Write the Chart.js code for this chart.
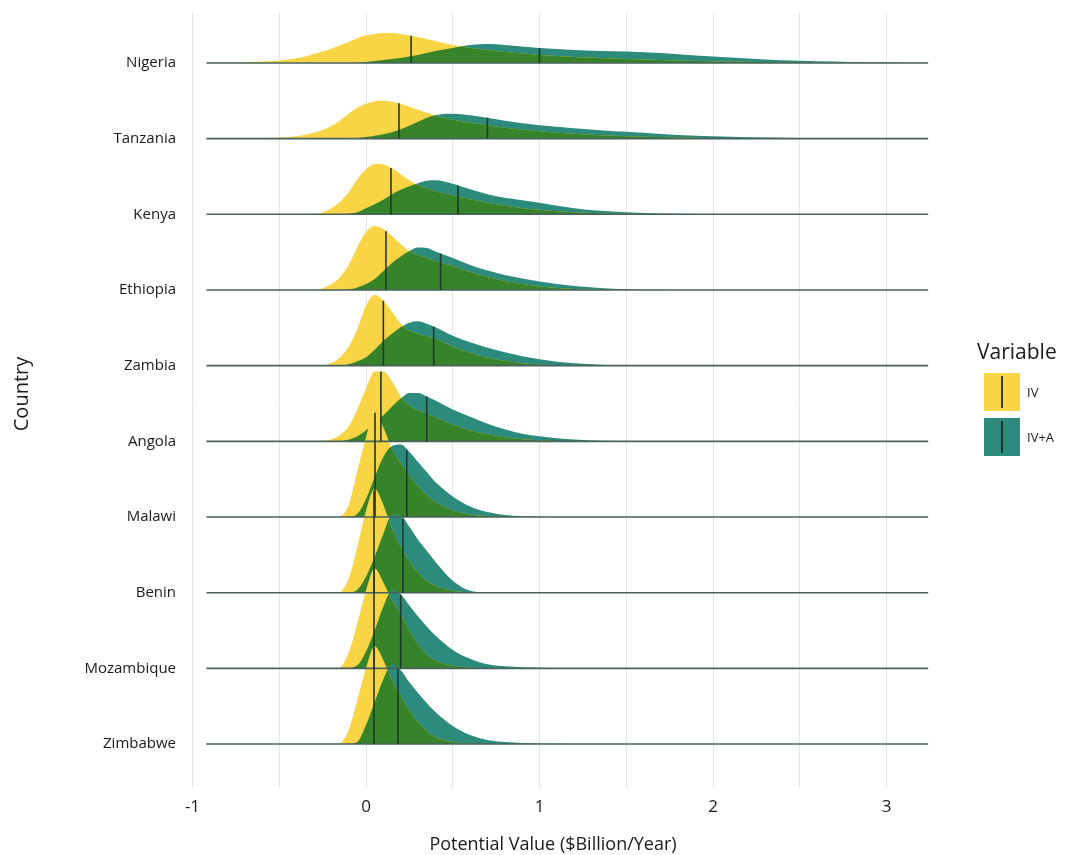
<!DOCTYPE html>
<html><head><meta charset="utf-8">
<script src="https://cdn.jsdelivr.net/npm/chart.js@4.4.1/dist/chart.umd.min.js"></script>
<style>html,body{margin:0;padding:0;background:#fff}#wrap{width:1067px;height:855px;position:relative}</style>
</head><body><div id="wrap"><canvas id="c"></canvas></div>
<script>
// ---------- data ----------
const countries = ['Nigeria','Tanzania','Kenya','Ethiopia','Zambia','Angola','Malawi','Benin','Mozambique','Zimbabwe'];
const seriesNames = ['IV','IV+A'];
// shared x positions (Potential Value, $Billion/Year) for all density curves
const xGrid = [-0.92,-0.8,-0.6,-0.45,-0.35,-0.28,-0.22,-0.16,-0.1,-0.05,
  0,0.05,0.1,0.15,0.2,0.25,0.3,0.35,0.4,
  0.5,0.6,0.7,0.8,0.9,1.0,1.1,1.2,
  1.35,1.5,
  1.7,1.9,2.1,2.3,2.5,2.7,2.9,3.1,
  3.24];
// relative density heights
const iv_Nigeria = [0.2,0.5,1.5,3.5,6.5,10,13,17,21,25, 27.5,29,30,30,29,27.5,26,24,22, 18,15,13,11,9.5,8,7,6, 5,4, 3,2,1.5,1,0.6,0.3,0.2,0.1, 0];
const iva_Nigeria = [0,0,0,0,0,0,0,0,0,0.3, 1,2,3,4,5,6.5,8,10,12, 15,18,19,18,16.5,15,14,13, 12,11.5, 10,7.5,5.5,3.5,2.3,1.4,0.7,0.3, 0.1];
const iv_Tanzania = [0,0.1,0.4,1.5,4,7,11,17,25,31, 35,37.5,38,37,35,32,29,26,23, 19,16,13.5,11,9,7.5,6,5, 3.5,2.5, 1.5,0.8,0.4,0.2,0.1,0,0,0, 0];
const iva_Tanzania = [0,0,0,0,0,0,0,0,0,0.5, 1.5,3,4.5,6.5,9.5,13,17,21,23.5, 25,23.5,21,18,15.5,13.5,12,10.5, 8.5,6.8, 4.7,2.8,1.8,1.1,0.6,0.3,0.1,0, 0];
const iv_Kenya = [0,0,0,0,0,0.5,4,11,22,35, 45,50.5,50,46,40,34,29,26,23, 19,15,11.5,8.5,6,4.5,3,2, 1,0.5, 0.2,0,0,0,0,0,0,0, 0];
const iva_Kenya = [0,0,0,0,0,0,0,0,0.3,2, 6,10,14.5,20,24.5,28,31,33.5,34, 30.5,25,20,16.5,14,11.5,8.5,6, 3.5,2, 0.8,0.3,0.1,0,0,0,0,0, 0];
const iv_Ethiopia = [0,0,0,0,0,0.5,4,11,25,43, 58,64,61,54,46,39,35,32,29, 24,18,13,9,6,3.5,2,1, 0.4,0.1, 0,0,0,0,0,0,0,0, 0];
const iva_Ethiopia = [0,0,0,0,0,0,0,0,0.5,2.5, 6,11,19,27,33.5,39,42.5,42,38.5, 32,25,19.5,15,11.5,8.5,6,4, 2,0.8, 0.2,0,0,0,0,0,0,0, 0];
const iv_Zambia = [0,0,0,0,0,0,1.5,7,19,37, 60,71,65,54,42,35,32,29.5,27, 19,13,8,5,2.5,1.2,0.5,0.2, 0,0, 0,0,0,0,0,0,0,0, 0];
const iva_Zambia = [0,0,0,0,0,0,0,0.2,1.5,4.5, 8.5,16,25,32,38.5,43,44.5,42,38.5, 30,23.5,18,13.5,9.5,6.5,4,2.5, 1,0.3, 0,0,0,0,0,0,0,0, 0];
const iv_Angola = [0,0,0,0,0,0,1,5,15,32, 53,70,70,60,45,36,31,28,24, 16.5,11,7,4,2,1,0.4,0.1, 0,0, 0,0,0,0,0,0,0,0, 0];
const iva_Angola = [0,0,0,0,0,0,0,0.2,1.5,5, 11,18,26,35,43,48.5,48.5,45,41, 32,24.5,17.5,12,7.5,5,3,1.8, 0.7,0.2, 0,0,0,0,0,0,0,0, 0];
const iv_Malawi = [0,0,0,0,0,0,0,0,12,46, 80,105,90,68,54,42,31,22,15, 6.5,2.5,1,0.3,0,0,0,0, 0,0, 0,0,0,0,0,0,0,0, 0];
const iva_Malawi = [0,0,0,0,0,0,0,0,0.3,3, 18,40,60,71,72.5,65,55,45,35, 20.5,10.5,5,2,0.8,0.3,0.1,0, 0,0, 0,0,0,0,0,0,0,0, 0];
const iv_Benin = [0,0,0,0,0,0,0,0,14,46, 82,104,88,64,46,32,20,12,7, 2,0.5,0,0,0,0,0,0, 0,0, 0,0,0,0,0,0,0,0, 0];
const iva_Benin = [0,0,0,0,0,0,0,0,0.3,3, 16,36,59,78,77,66,53,42,31, 12,2,0.3,0,0,0,0,0, 0,0, 0,0,0,0,0,0,0,0, 0];
const iv_Mozambique = [0,0,0,0,0,0,0,0,16,45, 78,100,86,68,55,38,24,14,8, 2.5,0.8,0.2,0,0,0,0,0, 0,0, 0,0,0,0,0,0,0,0, 0];
const iva_Mozambique = [0,0,0,0,0,0,0,0,0.3,3, 17,38,62,78,74,63,52,42,33, 18.5,9.5,4,2,1,0.5,0.2,0, 0,0, 0,0,0,0,0,0,0,0, 0];
const iv_Zimbabwe = [0,0,0,0,0,0,0,0,14,44, 76,98,84,64,48,34,22,13,7, 2,0.5,0,0,0,0,0,0, 0,0, 0,0,0,0,0,0,0,0, 0];
const iva_Zimbabwe = [0,0,0,0,0,0,0,0,0.2,2, 19,42,65,80,74,62,51,41,32, 18,9,4,2,1,0.5,0.2,0, 0,0, 0,0,0,0,0,0,0,0, 0];
// mean of each distribution (vertical marker lines)
const ivMeans  = [0.26,0.19,0.144,0.115,0.10,0.086,0.052,0.046,0.046,0.046];
const ivaMeans = [1.0,0.70,0.53,0.43,0.39,0.35,0.235,0.213,0.20,0.184];
const xTickValues = [-1,-0.5,0,0.5,1,1.5,2,2.5,3];

const ivSeries  = [iv_Nigeria,iv_Tanzania,iv_Kenya,iv_Ethiopia,iv_Zambia,iv_Angola,iv_Malawi,iv_Benin,iv_Mozambique,iv_Zimbabwe];
const ivaSeries = [iva_Nigeria,iva_Tanzania,iva_Kenya,iva_Ethiopia,iva_Zambia,iva_Angola,iva_Malawi,iva_Benin,iva_Mozambique,iva_Zimbabwe];

// ---------- styling ----------
const RIDGE = 1/75.8;           // density -> row units
const COL_IV = '#F9D546';
const COL_IVA = '#2C8B7D';
const COL_BOTH = '#37832A';
const COL_MEAN = '#1d3a2b';
const COL_BASE = '#46625b';
const FONT = "'Open Sans', 'Noto Sans', sans-serif";
Chart.defaults.font.family = FONT;
Chart.defaults.color = '#1a1a1a';

function valAt(arr, x) {
  for (let k = 0; k < xGrid.length - 1; k++) {
    if (x >= xGrid[k] && x <= xGrid[k+1]) {
      const t = (x - xGrid[k]) / (xGrid[k+1] - xGrid[k]);
      return arr[k] + t * (arr[k+1] - arr[k]);
    }
  }
  return 0;
}

const n = countries.length;
const fills = [], lines = [];
countries.forEach((c, i) => {
  const base = n - i;
  const mk = (arr, color, label) => ({
    label, data: xGrid.map((x, k) => ({x, y: base + arr[k] * RIDGE})),
    fill: {value: base}, backgroundColor: color, borderColor: 'rgba(0,0,0,0)', borderWidth: 1,
    pointRadius: 0, cubicInterpolationMode: 'monotone', ridgeBase: base
  });
  const iv = ivSeries[i], iva = ivaSeries[i];
  const tealIdx = fills.length;
  fills.push(mk(iva, COL_IVA, c + ' IV+A'));
  const yellow = mk(iv, COL_IV, c + ' IV');
  yellow.overlapWith = tealIdx;
  fills.push(yellow);
  lines.push({label: c + ' base', data: [{x: xGrid[0], y: base}, {x: xGrid[xGrid.length-1], y: base}],
    borderColor: COL_BASE, borderWidth: 1.6, pointRadius: 0, fill: false});
  [[iv, ivMeans[i]], [iva, ivaMeans[i]]].forEach(([arr, m]) => {
    lines.push({label: c + ' mean', data: [{x: m, y: base}, {x: m, y: base + valAt(arr, m) * RIDGE}],
      borderColor: COL_MEAN, borderWidth: 1.6, pointRadius: 0, fill: false});
  });
});
const drawList = fills.concat(lines);
drawList.forEach((d, idx) => { d.order = drawList.length - idx; });

function areaPath(ctx, meta, yBase) {
  const pts = meta.data;
  ctx.beginPath();
  meta.dataset.path(ctx);
  ctx.lineTo(pts[pts.length - 1].x, yBase);
  ctx.lineTo(pts[0].x, yBase);
  ctx.closePath();
}

const extras = {
  id: 'extras',
  beforeDraw(chart) {
    const ctx = chart.ctx;
    ctx.save(); ctx.fillStyle = '#fff'; ctx.fillRect(0, 0, chart.width, chart.height); ctx.restore();
  },
  afterDatasetDraw(chart, args) {
    const ds = chart.data.datasets[args.index];
    if (ds.overlapWith === undefined) return;
    const ctx = chart.ctx;
    const yBase = chart.scales.y.getPixelForValue(ds.ridgeBase);
    ctx.save();
    areaPath(ctx, chart.getDatasetMeta(ds.overlapWith), yBase);
    ctx.clip();
    areaPath(ctx, args.meta, yBase);
    ctx.fillStyle = COL_BOTH;
    ctx.fill();
    ctx.restore();
  },
  afterDraw(chart) {
    const ctx = chart.ctx;
    ctx.save();
    ctx.fillStyle = '#1a1a1a';
    ctx.textBaseline = 'middle'; ctx.textAlign = 'center';
    // axis titles
    ctx.font = "18px " + FONT;
    ctx.fillText('Potential Value ($Billion/Year)', 553, 845);
    ctx.save(); ctx.translate(22, 394); ctx.rotate(-Math.PI / 2);
    ctx.font = "20px " + FONT; ctx.fillText('Country', 0, 0); ctx.restore();
    // legend
    ctx.textAlign = 'left';
    ctx.font = "21px " + FONT;
    ctx.fillText('Variable', 977, 353);
    const keys = [[COL_IV, seriesNames[0], 373], [COL_IVA, seriesNames[1], 418]];
    keys.forEach(([col, lab, y]) => {
      ctx.fillStyle = col; ctx.fillRect(984, y, 36, 38);
      ctx.strokeStyle = 'rgba(20,40,30,0.85)'; ctx.lineWidth = 2;
      ctx.beginPath(); ctx.moveTo(1002, y + 3); ctx.lineTo(1002, y + 35); ctx.stroke();
      ctx.fillStyle = '#1a1a1a'; ctx.font = "13px " + FONT;
      ctx.fillText(lab, 1027, y + 20);
    });
    ctx.restore();
  }
};

new Chart(document.getElementById('c'), {
  type: 'line',
  data: {datasets: drawList},
  options: {
    responsive: true, maintainAspectRatio: false, animation: false, events: [],
    layout: {padding: {top: 12, right: 105, bottom: 0, left: 0}},
    plugins: {legend: {display: false}, tooltip: {enabled: false}},
    scales: {
      x: {
        type: 'linear', min: -1.072, max: 3.435,
        afterBuildTicks: s => { s.ticks = xTickValues.map(v => ({value: v})); },
        afterFit: s => { s.height = 67; },
        ticks: {autoSkip: false, maxRotation: 0, padding: 9, font: {size: 17}, color: '#1a1a1a',
          callback: v => Number.isInteger(v) ? String(v) : ''},
        grid: {color: '#e6e6e6', lineWidth: 1, drawTicks: false},
        border: {display: false}
      },
      y: {
        type: 'linear', min: 0.419, max: 10.66,
        afterBuildTicks: s => { s.ticks = countries.map((c, i) => ({value: n - i})); },
        afterFit: s => { s.width = 180; },
        ticks: {autoSkip: false, padding: 4, font: {size: 15}, color: '#1a1a1a',
          callback: v => countries[n - v]},
        grid: {display: false, drawTicks: false},
        border: {display: false}
      }
    }
  },
  plugins: [extras]
});
</script>
</body></html>
